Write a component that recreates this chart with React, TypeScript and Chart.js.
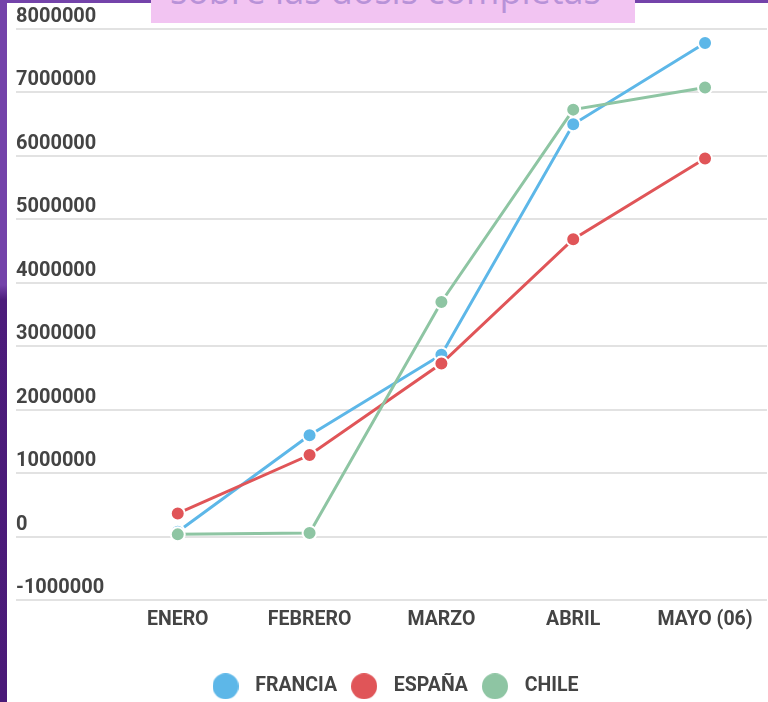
import React, { useEffect, useRef } from "react";
import { Chart, registerables } from "chart.js";

Chart.register(...registerables);

const categories = ["ENERO", "FEBRERO", "MARZO", "ABRIL", "MAYO (06)"];
const seriesNames = ["FRANCIA", "ESPAÑA", "CHILE"];
const francia = [80000, 1600000, 2870000, 6500000, 7780000];
const espana = [370000, 1290000, 2730000, 4690000, 5960000];
const chile = [40000, 60000, 3700000, 6730000, 7080000];
const seriesColors = ["#5db7e8", "#e05558", "#8ec5a3"];
const yMin = -1000000;
const yMax = 8000000;
const yStep = 1000000;
const titleText = "sobre las dosis completas";

const FONT = "Roboto, 'Noto Sans', sans-serif";
const TEXT_COLOR = "#444444";

function makeDot(color: string): HTMLCanvasElement {
  const c = document.createElement("canvas");
  c.width = 26;
  c.height = 26;
  const ctx = c.getContext("2d")!;
  ctx.fillStyle = color;
  ctx.beginPath();
  ctx.arc(13, 13, 13, 0, Math.PI * 2);
  ctx.fill();
  return c;
}

export default function App() {
  const canvasRef = useRef<HTMLCanvasElement | null>(null);

  useEffect(() => {
    if (!canvasRef.current) return;
    const series = [francia, espana, chile];
    const orders = [2, 1, 0];
    const dots = seriesColors.map(makeDot);
    const chart = new Chart(canvasRef.current, {
      type: "line",
      data: {
        datasets: series.map((vals, si) => ({
          label: seriesNames[si],
          data: vals.map((v, i) => ({ x: i, y: v })),
          borderColor: seriesColors[si],
          backgroundColor: seriesColors[si],
          pointBackgroundColor: seriesColors[si],
          pointBorderColor: "#ffffff",
          pointBorderWidth: 2,
          pointRadius: 7,
          borderWidth: 3,
          tension: 0,
          order: orders[si],
        })),
      },
      options: {
        responsive: true,
        maintainAspectRatio: false,
        animation: false,
        layout: { padding: { left: 16, right: 8, top: 29, bottom: 14 } },
        scales: {
          x: {
            type: "linear",
            min: -1.227,
            max: 4.47,
            grid: { display: false, drawTicks: false },
            border: { display: false },
            afterBuildTicks: (s: any) => {
              s.ticks = categories.map((_, i) => ({ value: i }));
            },
            ticks: {
              callback: (v: any) => categories[v as number] ?? "",
              font: { family: FONT, size: 19.5, weight: "bold" },
              color: TEXT_COLOR,
              padding: 8.5,
              maxRotation: 0,
              autoSkip: false,
            },
          },
          y: {
            min: yMin,
            max: yMax,
            grid: { color: "#e2e2e2", lineWidth: 2, drawTicks: false },
            border: { display: false },
            ticks: {
              stepSize: yStep,
              mirror: true,
              padding: 0,
              labelOffset: -12,
              callback: (v: any) => String(v),
              font: { family: FONT, size: 20, weight: "bold" },
              color: TEXT_COLOR,
            },
          },
        },
        plugins: {
          tooltip: { enabled: false },
          legend: {
            position: "bottom",
            title: {
              display: true,
              text: "",
              padding: { top: 27.5, bottom: 0 },
              font: { size: 1 },
            },
            labels: {
              usePointStyle: true,
              pointStyleWidth: 40,
              boxHeight: 19.5,
              padding: 7,
              color: TEXT_COLOR,
              font: { family: FONT, size: 19.5, weight: "bold" },
              generateLabels: (ch: any) => {
                const items = (Chart.defaults.plugins.legend.labels as any).generateLabels(ch);
                items.sort((a: any, b: any) => a.datasetIndex - b.datasetIndex);
                return items.map((it: any) => ({
                  ...it,
                  pointStyle: dots[it.datasetIndex],
                  lineWidth: 0,
                }));
              },
            },
          },
        },
      } as any,
    });
    return () => chart.destroy();
  }, []);

  return (
    <div
      style={{
        position: "absolute",
        left: 0,
        top: 0,
        width: 768,
        height: 702,
        overflow: "hidden",
        background: "#ffffff",
      }}
    >
      <div style={{ position: "absolute", left: 0, top: 0, width: 776, height: 720 }}>
        <canvas ref={canvasRef} style={{ display: "block" }} />
      </div>
      <div
        style={{
          position: "absolute",
          left: 0,
          top: 0,
          width: 768,
          height: 3,
          background: "#7443aa",
        }}
      />
      <div
        style={{
          position: "absolute",
          left: 0,
          top: 0,
          width: 7,
          height: 702,
          background:
            "linear-gradient(to bottom, #7443aa 0px, #7443aa 285px, #4c1c7b 300px, #4a1a78 702px)",
        }}
      />
      <div
        style={{
          position: "absolute",
          left: 151,
          top: 0,
          width: 484,
          height: 23,
          background: "#f2c4f2",
          overflow: "hidden",
        }}
      >
        <span
          style={{
            position: "absolute",
            left: 19,
            top: -27,
            fontFamily: "'Open Sans', sans-serif",
            fontSize: 36,
            lineHeight: "36px",
            color: "#b892d8",
            whiteSpace: "nowrap",
          }}
        >
          {titleText}
        </span>
      </div>
    </div>
  );
}
